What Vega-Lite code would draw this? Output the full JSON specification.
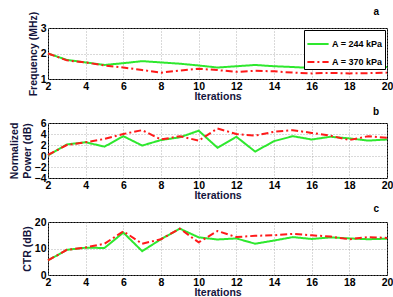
{
  "$schema": "https://vega.github.io/schema/vega-lite/v6.json",
  "background": "white",
  "padding": {"left": 9, "top": 6, "right": 6, "bottom": 0},
  "bounds": "flush",
  "spacing": 44,
  "config": {
    "font": "Liberation Sans",
    "view": {"stroke": "black", "strokeWidth": 1},
    "axis": {
      "labelFont": "Liberation Sans", "labelFontWeight": "bold", "labelFontSize": 10.5, "labelColor": "black",
      "titleFont": "Liberation Sans", "titleFontWeight": "bold", "titleFontSize": 10.5, "titleColor": "#14143c",
      "domain": false, "grid": true, "gridDash": [1, 2], "gridColor": "#a0a0a0", "gridWidth": 0.8,
      "ticks": false, "tickSize": 0, "labelPadding": 2, "titlePadding": 2, "labelOverlap": false
    },
    "axisX": {"titlePadding": 0, "labelPadding": 2, "labelFlush": false},
    "title": {"anchor": "end", "fontSize": 10, "fontWeight": "bold", "font": "Liberation Sans", "dx": -8, "color": "black", "frame": "group"},
    "legend": {
      "labelFont": "Liberation Sans", "labelFontWeight": "bold", "labelFontSize": 9, "labelColor": "black",
      "fillColor": "white", "strokeColor": "black", "padding": 2, "offset": 2, "symbolType": "stroke",
      "symbolStrokeWidth": 2, "symbolSize": 450, "rowPadding": 1, "labelOffset": 2
    },
    "line": {"strokeWidth": 2}
  },
  "datasets": {
    "d": [
      {"it": 2, "s": "A = 244 kPa", "freq": 2.0, "power": 0.1, "ctr": 5.5},
      {"it": 3, "s": "A = 244 kPa", "freq": 1.75, "power": 2.1, "ctr": 9.5},
      {"it": 4, "s": "A = 244 kPa", "freq": 1.65, "power": 2.5, "ctr": 10.3},
      {"it": 5, "s": "A = 244 kPa", "freq": 1.55, "power": 1.7, "ctr": 10.2},
      {"it": 6, "s": "A = 244 kPa", "freq": 1.62, "power": 3.6, "ctr": 16.0},
      {"it": 7, "s": "A = 244 kPa", "freq": 1.7, "power": 1.9, "ctr": 9.0},
      {"it": 8, "s": "A = 244 kPa", "freq": 1.65, "power": 2.9, "ctr": 13.5},
      {"it": 9, "s": "A = 244 kPa", "freq": 1.6, "power": 3.4, "ctr": 17.5},
      {"it": 10, "s": "A = 244 kPa", "freq": 1.53, "power": 4.6, "ctr": 14.2},
      {"it": 11, "s": "A = 244 kPa", "freq": 1.45, "power": 1.5, "ctr": 13.4},
      {"it": 12, "s": "A = 244 kPa", "freq": 1.5, "power": 3.5, "ctr": 13.8},
      {"it": 13, "s": "A = 244 kPa", "freq": 1.55, "power": 0.8, "ctr": 11.8},
      {"it": 14, "s": "A = 244 kPa", "freq": 1.5, "power": 2.7, "ctr": 13.0},
      {"it": 15, "s": "A = 244 kPa", "freq": 1.47, "power": 3.6, "ctr": 14.3},
      {"it": 16, "s": "A = 244 kPa", "freq": 1.43, "power": 3.0, "ctr": 13.6},
      {"it": 17, "s": "A = 244 kPa", "freq": 1.45, "power": 3.5, "ctr": 14.2},
      {"it": 18, "s": "A = 244 kPa", "freq": 1.48, "power": 3.2, "ctr": 13.8},
      {"it": 19, "s": "A = 244 kPa", "freq": 1.45, "power": 2.8, "ctr": 13.5},
      {"it": 20, "s": "A = 244 kPa", "freq": 1.47, "power": 3.0, "ctr": 13.7},
      {"it": 2, "s": "A = 370 kPa", "freq": 2.0, "power": 0.2, "ctr": 5.5},
      {"it": 3, "s": "A = 370 kPa", "freq": 1.73, "power": 2.0, "ctr": 9.5},
      {"it": 4, "s": "A = 370 kPa", "freq": 1.65, "power": 2.5, "ctr": 10.4},
      {"it": 5, "s": "A = 370 kPa", "freq": 1.53, "power": 3.1, "ctr": 11.8},
      {"it": 6, "s": "A = 370 kPa", "freq": 1.45, "power": 4.0, "ctr": 16.5},
      {"it": 7, "s": "A = 370 kPa", "freq": 1.35, "power": 4.7, "ctr": 11.8},
      {"it": 8, "s": "A = 370 kPa", "freq": 1.25, "power": 3.0, "ctr": 13.5},
      {"it": 9, "s": "A = 370 kPa", "freq": 1.33, "power": 3.6, "ctr": 17.5},
      {"it": 10, "s": "A = 370 kPa", "freq": 1.4, "power": 2.8, "ctr": 12.3},
      {"it": 11, "s": "A = 370 kPa", "freq": 1.35, "power": 5.0, "ctr": 16.6},
      {"it": 12, "s": "A = 370 kPa", "freq": 1.28, "power": 4.0, "ctr": 14.3},
      {"it": 13, "s": "A = 370 kPa", "freq": 1.32, "power": 3.7, "ctr": 14.8},
      {"it": 14, "s": "A = 370 kPa", "freq": 1.3, "power": 4.4, "ctr": 15.0},
      {"it": 15, "s": "A = 370 kPa", "freq": 1.25, "power": 4.7, "ctr": 15.5},
      {"it": 16, "s": "A = 370 kPa", "freq": 1.22, "power": 4.2, "ctr": 15.0},
      {"it": 17, "s": "A = 370 kPa", "freq": 1.24, "power": 3.7, "ctr": 14.5},
      {"it": 18, "s": "A = 370 kPa", "freq": 1.22, "power": 2.9, "ctr": 13.5},
      {"it": 19, "s": "A = 370 kPa", "freq": 1.23, "power": 3.6, "ctr": 14.3},
      {"it": 20, "s": "A = 370 kPa", "freq": 1.25, "power": 3.3, "ctr": 14.0}
    ]
  },
  "vconcat": [
    {
      "title": {"text": "a", "offset": -6},
      "width": 339, "height": 51,
      "data": {"name": "d"},
      "mark": {"type": "line", "strokeWidth": 2},
      "encoding": {
        "x": {"field": "it", "type": "quantitative", "scale": {"domain": [2, 20], "nice": false}, "axis": {"title": "Iterations", "values": [2,4,6,8,10,12,14,16,18,20]}},
        "y": {"field": "freq", "type": "quantitative", "scale": {"domain": [1, 3], "nice": false}, "axis": {"title": "Frequency (MHz)", "values": [1, 2, 3], "format": ".0f"}},
        "color": {"field": "s", "type": "nominal", "scale": {"range": ["#2ee82e", "#ff1a1a"]}, "legend": {"title": null, "orient": "top-right"}},
        "strokeDash": {"field": "s", "type": "nominal", "scale": {"range": [[1, 0], [7, 3, 2, 3]]}, "legend": {"title": null, "orient": "top-right"}}
      }
    },
    {
      "title": {"text": "b", "offset": 1},
      "width": 339, "height": 55,
      "data": {"name": "d"},
      "mark": {"type": "line", "strokeWidth": 2},
      "encoding": {
        "x": {"field": "it", "type": "quantitative", "scale": {"domain": [2, 20], "nice": false}, "axis": {"title": "Iterations", "values": [2,4,6,8,10,12,14,16,18,20]}},
        "y": {"field": "power", "type": "quantitative", "scale": {"domain": [-4, 6], "nice": false}, "axis": {"title": ["Normalized", "Power (dB)"], "values": [-4, -2, 0, 2, 4, 6]}},
        "color": {"field": "s", "type": "nominal", "scale": {"range": ["#2ee82e", "#ff1a1a"]}, "legend": null},
        "strokeDash": {"field": "s", "type": "nominal", "scale": {"range": [[1, 0], [7, 3, 2, 3]]}, "legend": null}
      }
    },
    {
      "title": {"text": "c", "offset": 3},
      "width": 339, "height": 53,
      "data": {"name": "d"},
      "mark": {"type": "line", "strokeWidth": 2},
      "encoding": {
        "x": {"field": "it", "type": "quantitative", "scale": {"domain": [2, 20], "nice": false}, "axis": {"title": "Iterations", "values": [2,4,6,8,10,12,14,16,18,20]}},
        "y": {"field": "ctr", "type": "quantitative", "scale": {"domain": [0, 20], "nice": false}, "axis": {"title": "CTR (dB)", "values": [0, 10, 20]}},
        "color": {"field": "s", "type": "nominal", "scale": {"range": ["#2ee82e", "#ff1a1a"]}, "legend": null},
        "strokeDash": {"field": "s", "type": "nominal", "scale": {"range": [[1, 0], [7, 3, 2, 3]]}, "legend": null}
      }
    }
  ]
}
